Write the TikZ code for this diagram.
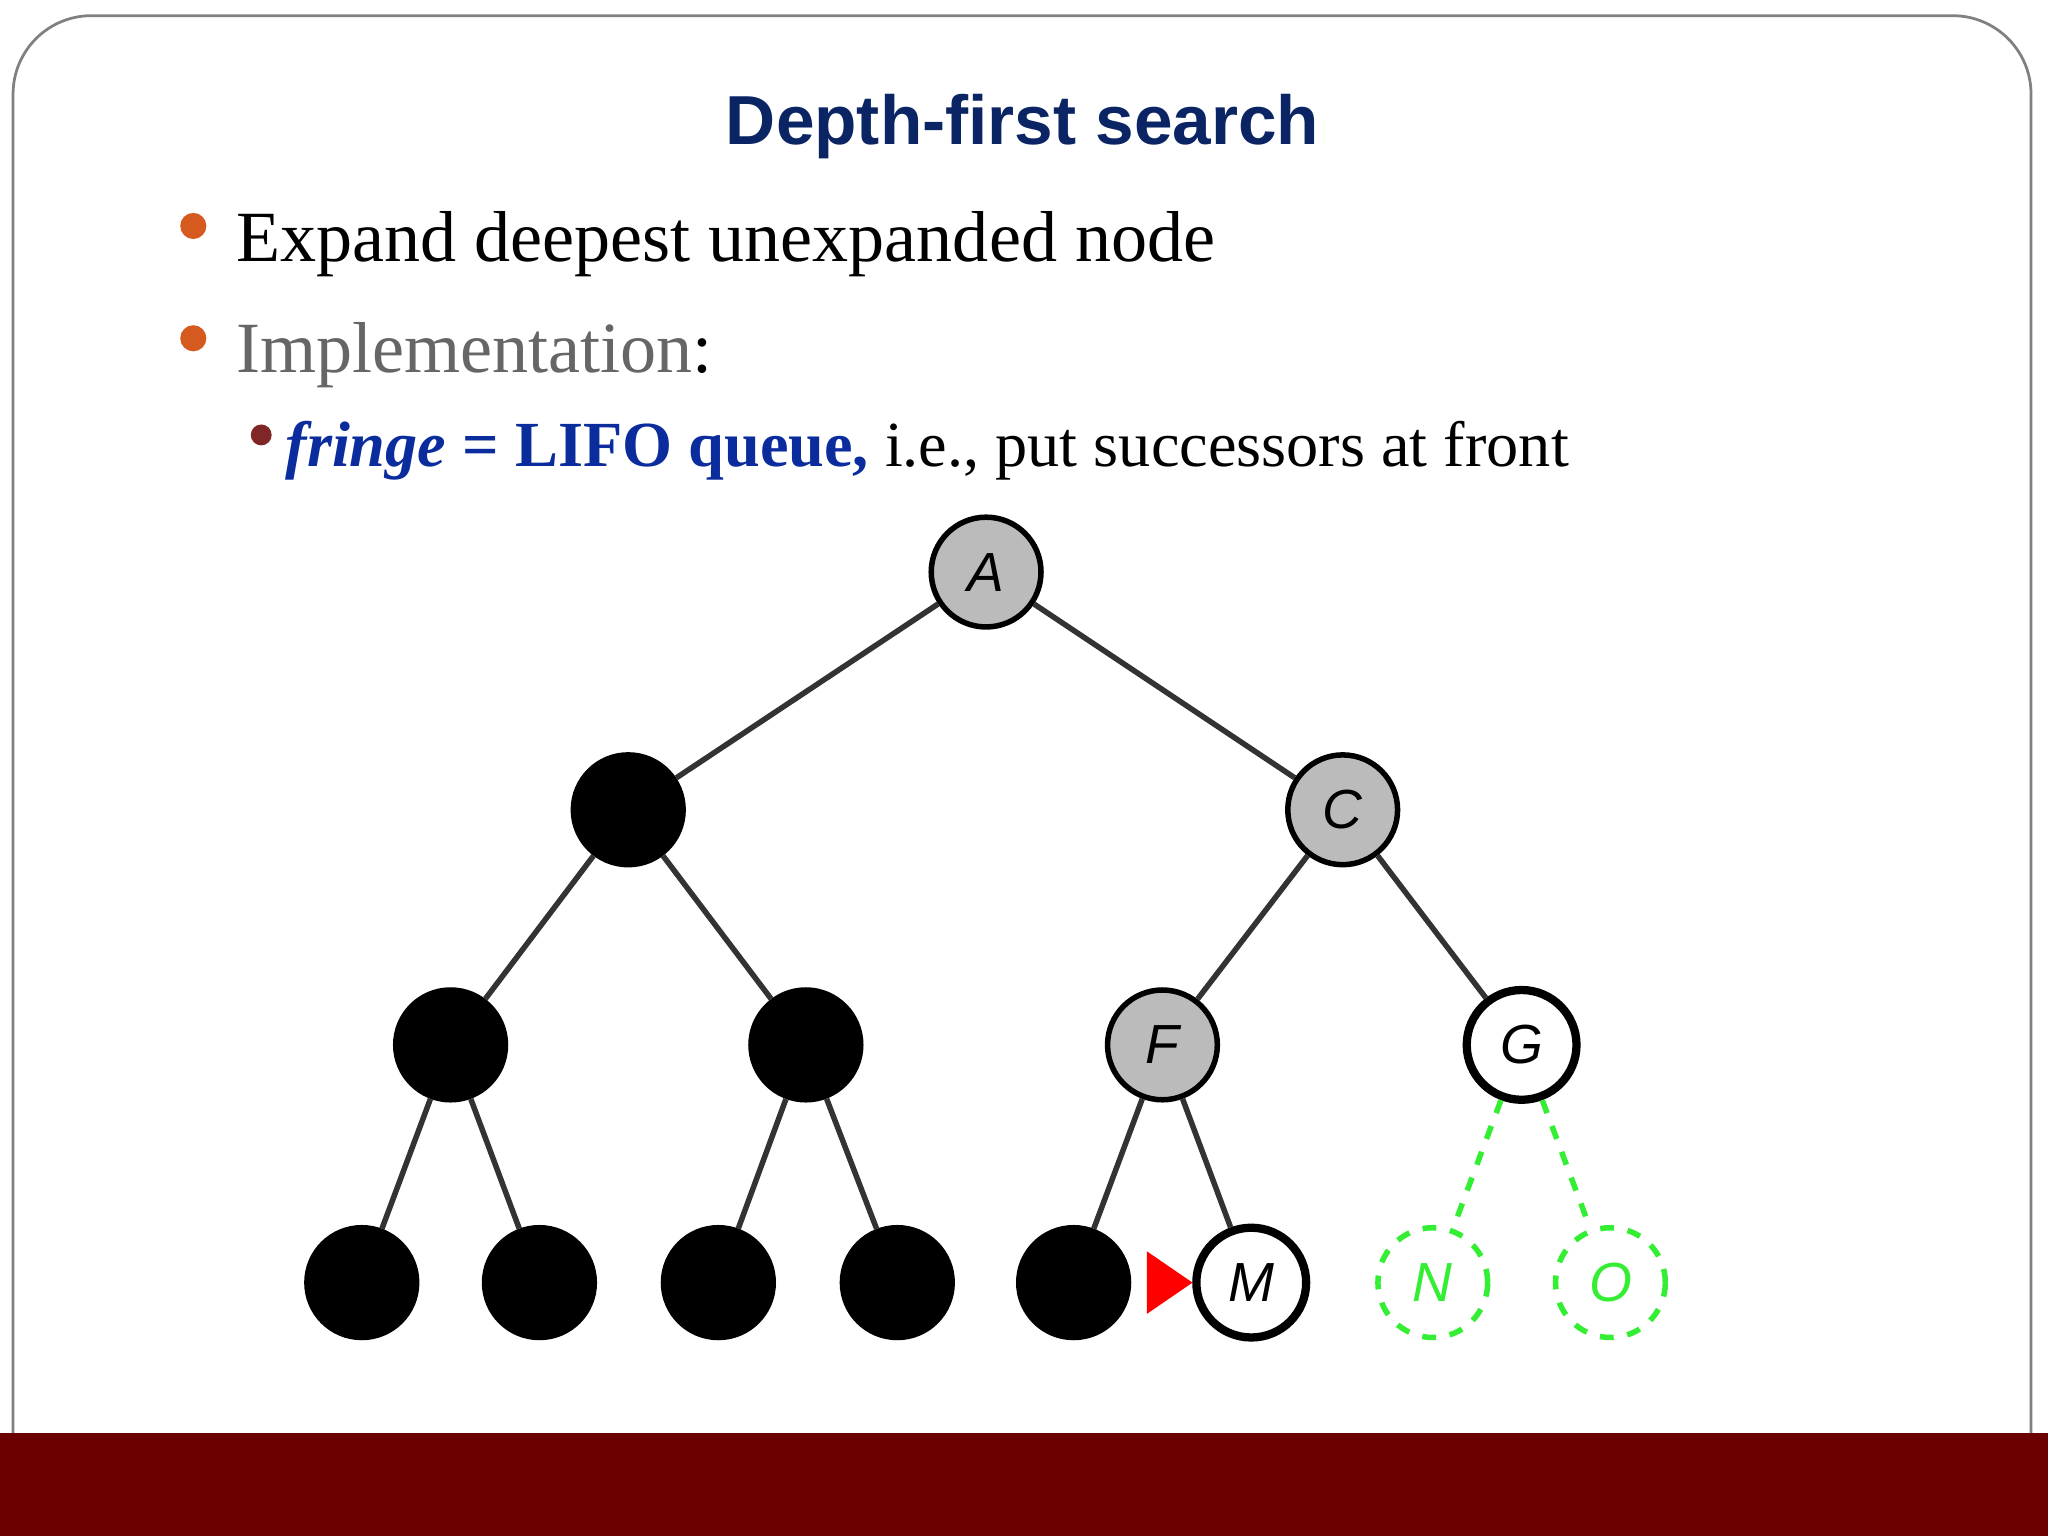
\documentclass[tikz,border=0pt]{standalone}
\usepackage{fontspec}
\setmainfont{Liberation Serif}
\newfontfamily\titlefont{Liberation Sans}
\usetikzlibrary{shapes.geometric}
\definecolor{bar}{HTML}{6B0000}
\definecolor{ttl}{HTML}{0A2464}
\definecolor{blu}{HTML}{0A2C9C}
\definecolor{orng}{HTML}{D45A20}
\definecolor{grn}{HTML}{33EE33}
\definecolor{gry}{HTML}{BBBBBB}
\begin{document}
\begin{tikzpicture}[x=0.01cm,y=-0.01cm,
 tn/.style={circle,minimum size=0.84cm,inner sep=0pt,line width=1.2pt,draw=black,font=\titlefont\itshape\fontsize{12}{12}\selectfont},
 vis/.style={tn,fill=gry},
 done/.style={tn,fill=black},
 open/.style={tn,fill=white,line width=1.8pt},
 newn/.style={tn,draw=grn,text=grn,dashed,line width=1.2pt},
 edge/.style={draw=black!80,line width=1.2pt},
 gedge/.style={draw=grn,dashed,line width=1.2pt}]
\useasboundingbox (0,0) rectangle (1568,1176);
\draw[gray,line width=0.6pt] (10,1100) -- (10,72) arc (180:270:60) -- (1495,12) arc (270:360:60) -- (1555,1100);
\fill[bar] (0,1097) rectangle (1568,1176);
\node[font=\titlefont\bfseries\fontsize{15.1}{18}\selectfont,text=ttl] (title) at (783,97) {Depth-first search};
\fill[orng] (148,173) circle (10);
\node[anchor=base west,font=\fontsize{15.7}{17}\selectfont,inner sep=0] (b1) at (180,200) {Expand deepest unexpanded node};
\fill[orng] (148,259) circle (10);
\node[anchor=base west,font=\fontsize{15.7}{17}\selectfont,inner sep=0] (b2) at (180,285) {\textcolor{black!60}{Implementation}:};
\fill[bar!85] (200,333) circle (8);
\node[anchor=base west,font=\fontsize{14}{16}\selectfont,inner sep=0] (b3) at (218,357) {\textcolor{blu}{\textit{\textbf{fringe}} \textbf{= LIFO queue,}} i.e., put successors at front};
\node[vis] (A) at (755,438) {A};
\node[done] (B) at (481,620) {};
\node[vis] (C) at (1028,620) {C};
\node[done] (D) at (345,800) {};
\node[done] (E) at (617,800) {};
\node[vis] (F) at (890,800) {F};
\node[open] (G) at (1165,800) {G};
\node[done] (H) at (277,982) {};
\node[done] (I) at (413,982) {};
\node[done] (J) at (550,982) {};
\node[done] (K) at (687,982) {};
\node[done] (L) at (822,982) {};
\node[open] (M) at (958,982) {M};
\node[newn] (N) at (1097,982) {N};
\node[newn] (O) at (1233,982) {O};
\draw[edge] (A)--(B) (A)--(C) (B)--(D) (B)--(E) (C)--(F) (C)--(G)
 (D)--(H) (D)--(I) (E)--(J) (E)--(K) (F)--(L) (F)--(M);
\draw[gedge] (G)--(N) (G)--(O);
\fill[red] (878,958) -- (913,982) -- (878,1006) -- cycle;
\end{tikzpicture}
\end{document}
